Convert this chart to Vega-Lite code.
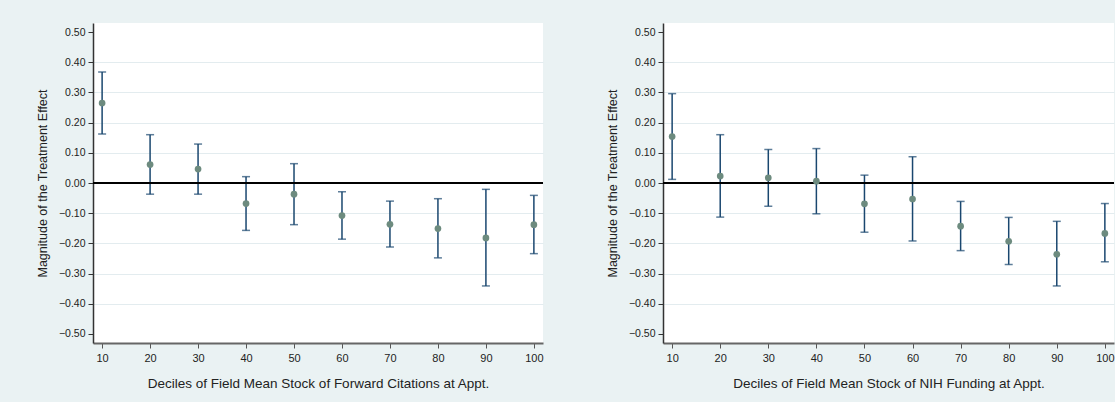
{
  "$schema": "https://vega.github.io/schema/vega-lite/v6.json",
  "background": "#eaf2f3",
  "padding": {"left": 36, "top": 23, "right": 0, "bottom": 12},
  "spacing": 62,
  "datasets": {
    "cit": [
      {"decile": 10, "est": 0.265, "lo": 0.162, "hi": 0.368},
      {"decile": 20, "est": 0.061, "lo": -0.037, "hi": 0.160},
      {"decile": 30, "est": 0.046, "lo": -0.037, "hi": 0.129},
      {"decile": 40, "est": -0.068, "lo": -0.157, "hi": 0.021},
      {"decile": 50, "est": -0.037, "lo": -0.138, "hi": 0.064},
      {"decile": 60, "est": -0.108, "lo": -0.186, "hi": -0.029},
      {"decile": 70, "est": -0.137, "lo": -0.212, "hi": -0.060},
      {"decile": 80, "est": -0.151, "lo": -0.248, "hi": -0.052},
      {"decile": 90, "est": -0.182, "lo": -0.341, "hi": -0.021},
      {"decile": 100, "est": -0.138, "lo": -0.234, "hi": -0.041}
    ],
    "nih": [
      {"decile": 10, "est": 0.154, "lo": 0.012, "hi": 0.296},
      {"decile": 20, "est": 0.023, "lo": -0.113, "hi": 0.160},
      {"decile": 30, "est": 0.017, "lo": -0.077, "hi": 0.111},
      {"decile": 40, "est": 0.006, "lo": -0.102, "hi": 0.114},
      {"decile": 50, "est": -0.069, "lo": -0.163, "hi": 0.026},
      {"decile": 60, "est": -0.053, "lo": -0.192, "hi": 0.087},
      {"decile": 70, "est": -0.143, "lo": -0.224, "hi": -0.061},
      {"decile": 80, "est": -0.193, "lo": -0.270, "hi": -0.114},
      {"decile": 90, "est": -0.236, "lo": -0.341, "hi": -0.127},
      {"decile": 100, "est": -0.167, "lo": -0.261, "hi": -0.068}
    ]
  },
  "config": {
    "view": {"fill": "white", "stroke": null},
    "font": "Liberation Sans",
    "axisY": {
      "grid": true, "gridColor": "#e3ecef", "gridWidth": 1,
      "domainColor": "#333333", "domainWidth": 1.5,
      "tickColor": "#333333", "tickSize": 5, "tickWidth": 1, "tickCount": 30,
      "labelFontSize": 10.5, "labelColor": "#222222", "labelPadding": 3, "labelOverlap": false,
      "titleFontSize": 12.5, "titleFontWeight": "normal", "titleColor": "#222222", "titlePadding": 9
    },
    "axisX": {
      "grid": false,
      "domainColor": "#666666", "domainWidth": 2,
      "tickColor": "#555555", "tickSize": 5, "tickWidth": 1, "tickCount": 30,
      "labelFontSize": 11, "labelColor": "#222222", "labelPadding": 4, "labelFlush": false, "labelOverlap": false,
      "titleFontSize": 13.5, "titleFontWeight": "normal", "titleColor": "#222222", "titlePadding": 13
    }
  },
  "hconcat": [
    {
      "width": 450, "height": 320,
      "data": {"name": "cit"},
      "layer": [
        {
          "mark": {"type": "rule", "color": "#1a476f", "strokeWidth": 1.5},
          "encoding": {
            "x": {"field": "decile", "type": "quantitative",
                  "scale": {"domain": [8.1, 101.9], "nice": false, "zero": false},
                  "axis": {"values": [10, 20, 30, 40, 50, 60, 70, 80, 90, 100], "tickCount": 30, "title": "Deciles of Field Mean Stock of Forward Citations at Appt."}},
            "y": {"field": "lo", "type": "quantitative",
                  "scale": {"domain": [-0.53, 0.53], "nice": false, "zero": false},
                  "axis": {"values": [-0.5, -0.4, -0.3, -0.2, -0.1, 0, 0.1, 0.2, 0.3, 0.4, 0.5], "tickCount": 30, "format": ".2f", "title": "Magnitude of the Treatment Effect",
                           "gridOpacity": {"condition": {"test": "abs(datum.value) > 0.45", "value": 0}, "value": 1}}},
            "y2": {"field": "hi"}
          }
        },
        {
          "mark": {"type": "rule", "color": "black", "strokeWidth": 1},
          "encoding": {"y": {"datum": 0, "type": "quantitative"}}
        },
        {
          "mark": {"type": "tick", "orient": "horizontal", "size": 8, "thickness": 1.5, "color": "#1a476f"},
          "encoding": {"x": {"field": "decile", "type": "quantitative"}, "y": {"field": "lo", "type": "quantitative"}}
        },
        {
          "mark": {"type": "tick", "orient": "horizontal", "size": 8, "thickness": 1.5, "color": "#1a476f"},
          "encoding": {"x": {"field": "decile", "type": "quantitative"}, "y": {"field": "hi", "type": "quantitative"}}
        },
        {
          "mark": {"type": "point", "filled": true, "size": 45, "color": "#6d8b7f", "opacity": 1, "strokeWidth": 0},
          "encoding": {"x": {"field": "decile", "type": "quantitative"}, "y": {"field": "est", "type": "quantitative"}}
        }
      ]
    },
    {
      "width": 451, "height": 320,
      "data": {"name": "nih"},
      "layer": [
        {
          "mark": {"type": "rule", "color": "#1a476f", "strokeWidth": 1.5},
          "encoding": {
            "x": {"field": "decile", "type": "quantitative",
                  "scale": {"domain": [8.1, 101.9], "nice": false, "zero": false},
                  "axis": {"values": [10, 20, 30, 40, 50, 60, 70, 80, 90, 100], "tickCount": 30, "title": "Deciles of Field Mean Stock of NIH Funding at Appt."}},
            "y": {"field": "lo", "type": "quantitative",
                  "scale": {"domain": [-0.53, 0.53], "nice": false, "zero": false},
                  "axis": {"values": [-0.5, -0.4, -0.3, -0.2, -0.1, 0, 0.1, 0.2, 0.3, 0.4, 0.5], "tickCount": 30, "format": ".2f", "title": "Magnitude of the Treatment Effect",
                           "gridOpacity": {"condition": {"test": "abs(datum.value) > 0.45", "value": 0}, "value": 1}}},
            "y2": {"field": "hi"}
          }
        },
        {
          "mark": {"type": "rule", "color": "black", "strokeWidth": 1},
          "encoding": {"y": {"datum": 0, "type": "quantitative"}}
        },
        {
          "mark": {"type": "tick", "orient": "horizontal", "size": 8, "thickness": 1.5, "color": "#1a476f"},
          "encoding": {"x": {"field": "decile", "type": "quantitative"}, "y": {"field": "lo", "type": "quantitative"}}
        },
        {
          "mark": {"type": "tick", "orient": "horizontal", "size": 8, "thickness": 1.5, "color": "#1a476f"},
          "encoding": {"x": {"field": "decile", "type": "quantitative"}, "y": {"field": "hi", "type": "quantitative"}}
        },
        {
          "mark": {"type": "point", "filled": true, "size": 45, "color": "#6d8b7f", "opacity": 1, "strokeWidth": 0},
          "encoding": {"x": {"field": "decile", "type": "quantitative"}, "y": {"field": "est", "type": "quantitative"}}
        }
      ]
    }
  ]
}
